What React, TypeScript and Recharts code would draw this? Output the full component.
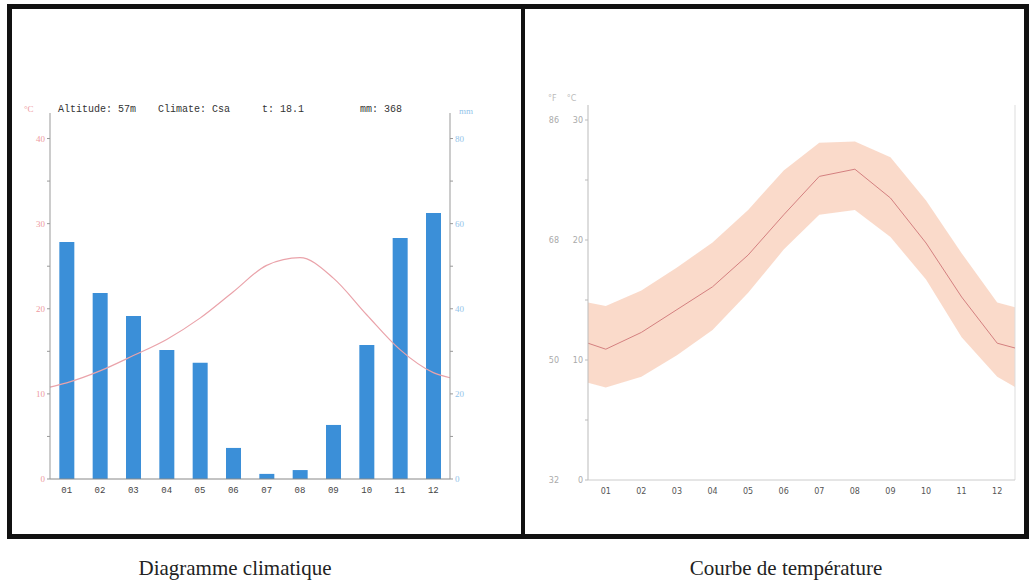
import React from 'react';
import {
  ComposedChart,
  Bar,
  Line,
  Area,
  XAxis,
  YAxis,
  ReferenceLine,
} from 'recharts';

// shared month labels
const monthTicks = [1, 2, 3, 4, 5, 6, 7, 8, 9, 10, 11, 12];
const monthLabels = ['01', '02', '03', '04', '05', '06', '07', '08', '09', '10', '11', '12'];

// left: climate diagram
const precipMm = [55.7, 43.7, 38.3, 30.3, 27.3, 7.3, 1.2, 2.1, 12.7, 31.5, 56.6, 62.5];
const curvePos = [0.5, 1, 2, 3, 4, 5, 6, 7, 8, 9, 10, 11, 12, 12.5];
const tempDiagram = [10.8, 11.3, 12.7, 14.5, 16.4, 18.9, 22.0, 25.1, 26.0, 23.6, 19.3, 15.2, 12.5, 11.9];
const tempTicks = [0, 5, 10, 15, 20, 25, 30, 35, 40];
const mmTicks = [0, 10, 20, 30, 40, 50, 60, 70, 80];
const header = ['Altitude: 57m', 'Climate: Csa', 't: 18.1', 'mm: 368'];

// right: temperature curve
const tempMean = [11.4, 10.9, 12.3, 14.2, 16.1, 18.75, 22.1, 25.3, 25.9, 23.5, 19.75, 15.25, 11.4, 11.0];
const tempHigh = [14.8, 14.5, 15.8, 17.7, 19.8, 22.5, 25.8, 28.1, 28.2, 26.9, 23.3, 18.9, 14.8, 14.4];
const tempLow = [8.1, 7.7, 8.6, 10.4, 12.5, 15.6, 19.2, 22.1, 22.5, 20.25, 16.7, 11.9, 8.6, 7.75];
const celsiusTicks = [0, 5, 10, 15, 20, 25, 30];
const celsiusLabels = ['0', '10', '20', '30'];
const fahrenheitLabels = ['32', '50', '68', '86'];

const diagramData = curvePos.map((p, i) => ({
  x: p,
  temp: tempDiagram[i],
  rain: Number.isInteger(p) ? precipMm[p - 1] : undefined,
}));

const curveData = curvePos.map((p, i) => ({
  x: p,
  mean: tempMean[i],
  band: [tempLow[i], tempHigh[i]],
}));

const monthFmt = (v: number) => monthLabels[v - 1] ?? '';

function DualTick({ x, y, payload }: any) {
  const j = [0, 10, 20, 30].indexOf(payload.value);
  if (j < 0) return null;
  return (
    <g fontSize={8} fill="#aaa" fontFamily="DejaVu Sans">
      <text x={x - 24} y={y + 3} textAnchor="end">{fahrenheitLabels[j]}</text>
      <text x={x} y={y + 3} textAnchor="end">{celsiusLabels[j]}</text>
    </g>
  );
}

export default function App() {
  const abs = (l: number, t: number): React.CSSProperties => ({ position: 'absolute', left: l, top: t });
  return (
    <div style={{ position: 'absolute', left: 0, top: 0, width: 1032, height: 587, background: '#fff', fontFamily: 'Liberation Serif' }}>
      {/* frame */}
      <div style={{ ...abs(7, 4), width: 1022, height: 535, border: '5px solid #111', boxSizing: 'border-box' }} />
      <div style={{ ...abs(521, 4), width: 4, height: 535, background: '#111' }} />

      {/* Diagramme climatique */}
      <div style={abs(0, 0)}>
        <ComposedChart width={520} height={540} data={diagramData} margin={{ top: 113, right: 30, bottom: 31, left: 10 }}>
          <XAxis
            dataKey="x"
            type="number"
            domain={[0.5, 12.5]}
            ticks={monthTicks}
            tickFormatter={monthFmt}
            stroke="#888"
            tickLine={false}
            tick={{ fontSize: 9, fill: '#444', fontFamily: 'Liberation Mono' }}
            height={30}
          />
          <YAxis
            yAxisId="t"
            domain={[0, 43]}
            ticks={tempTicks}
            tickFormatter={(v) => (v % 10 === 0 ? String(v) : '')}
            stroke="#999"
            tickSize={3}
            tick={{ fontSize: 9, fill: '#ee9aa0' }}
            width={40}
          />
          <YAxis
            yAxisId="p"
            orientation="right"
            domain={[0, 86]}
            ticks={mmTicks}
            tickFormatter={(v) => (v % 20 === 0 ? String(v) : '')}
            stroke="#999"
            tickSize={3}
            tick={{ fontSize: 9, fill: '#92c4ea' }}
            width={40}
          />
          <Bar yAxisId="p" dataKey="rain" fill="#3b8fd8" barSize={18} isAnimationActive={false} />
          <Line
            yAxisId="t"
            dataKey="temp"
            type="monotone"
            stroke="#eaa3aa"
            strokeWidth={1.2}
            dot={false}
            isAnimationActive={false}
          />
        </ComposedChart>
      </div>
      <div style={{ ...abs(24, 104), fontSize: 9, color: '#ee9aa0' }}>°C</div>
      <div style={{ ...abs(459, 106), fontSize: 9, color: '#92c4ea' }}>mm</div>
      {header.map((h, i) => (
        <div key={h} style={{ ...abs([58, 158, 262, 360][i], 104), fontSize: 10, color: '#333', fontFamily: 'Liberation Mono', whiteSpace: 'pre' }}>
          {h}
        </div>
      ))}

      {/* Courbe de température */}
      <div style={abs(525, 0)}>
        <ComposedChart width={500} height={540} data={curveData} margin={{ top: 105, right: 10, bottom: 30, left: 13 }}>
          <XAxis
            dataKey="x"
            type="number"
            domain={[0.5, 12.5]}
            ticks={monthTicks}
            tickFormatter={monthFmt}
            stroke="#ccc"
            tickLine={false}
            tick={{ fontSize: 8, fill: '#555', fontFamily: 'DejaVu Sans' }}
            height={30}
          />
          <YAxis
            domain={[0, 31.25]}
            ticks={celsiusTicks}
            stroke="#bbb"
            tickSize={3}
            tick={<DualTick />}
            width={50}
          />
          <ReferenceLine x={12.5} stroke="#ddd" />
          <Area dataKey="band" stroke="none" fill="#f8cdb8" fillOpacity={0.75} isAnimationActive={false} />
          <Line dataKey="mean" stroke="#d48080" strokeWidth={1} dot={false} isAnimationActive={false} />
        </ComposedChart>
      </div>
      <div style={{ ...abs(548, 94), fontSize: 8, color: '#bbb', fontFamily: 'DejaVu Sans', whiteSpace: 'pre' }}>°F    °C</div>

      {/* captions */}
      <div style={{ ...abs(0, 556), width: 470, textAlign: 'center', fontSize: 21, color: '#222' }}>Diagramme climatique</div>
      <div style={{ ...abs(551, 556), width: 470, textAlign: 'center', fontSize: 21, color: '#222' }}>Courbe de température</div>
    </div>
  );
}
